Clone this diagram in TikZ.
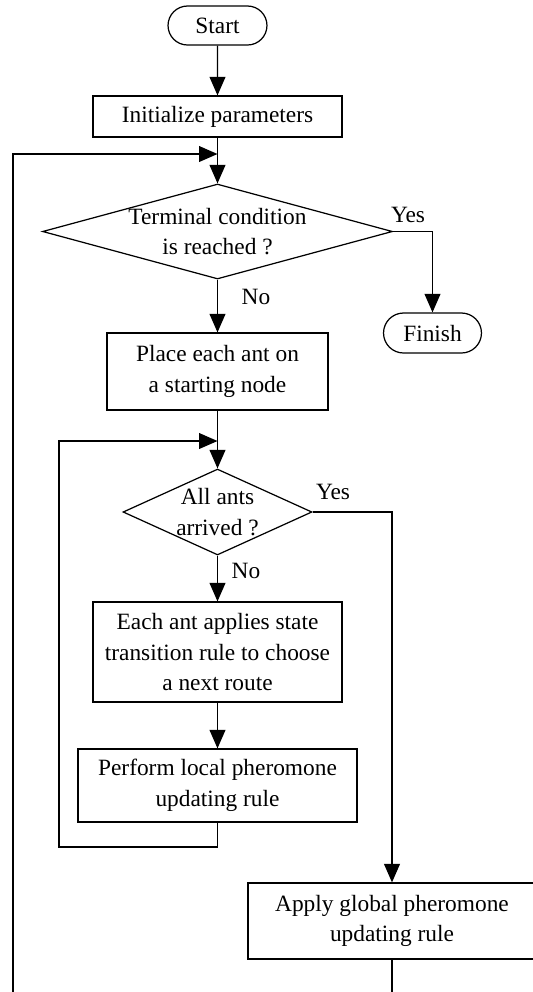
\documentclass[tikz,border=0pt]{standalone}
\usepackage{fontspec}
\setmainfont{Liberation Serif}
\usetikzlibrary{arrows.meta,shapes.geometric,shapes.misc,positioning}

\begin{document}
\begin{tikzpicture}[
    x=0.02cm, y=-0.02cm,
    font=\fontsize{13.3}{17.5}\selectfont,
    line width=0.7pt,
    term/.style={draw,rounded rectangle,minimum width=2.12cm,
                 minimum height=0.78cm,inner sep=2pt},
    box/.style={draw,rectangle,align=center,inner sep=2pt},
    dia/.style={draw,diamond,inner sep=0pt},
    lbl/.style={inner sep=1pt},
    arr/.style={-{Triangle[length=10.5pt,width=9pt]}},
  ]
    \useasboundingbox (0,0) rectangle (533,992);
    \clip (0,0) rectangle (533,992);
    % main column
    \node[term] (start) at (217.5,25.5) {Start};
    \node[box,minimum width=4.98cm,minimum height=0.82cm] (init)
      at (217.5,116.5) {Initialize parameters};
    \node[dia,minimum width=7cm,minimum height=1.9cm,
      label={[align=center]center:Terminal condition\\is reached ?}] (d1)
      at (217.5,231.5) {};
    \node[term,minimum width=2.1cm,minimum height=0.8cm] (finish)
      at (432.5,333) {Finish};
    \node[box,minimum width=4.42cm,minimum height=1.54cm] (place)
      at (217.5,371.5) {Place each ant on\\a starting node};
    \node[dia,minimum width=3.78cm,minimum height=1.72cm,
      label={[align=center]center:All ants\\arrived ?}] (d2)
      at (217.5,512) {};
    \node[box,minimum width=4.98cm,minimum height=2cm] (each)
      at (217.5,652) {Each ant applies state\\transition rule to choose\\a next route};
    \node[box,minimum width=5.58cm,minimum height=1.46cm] (local)
      at (217.5,785.5) {Perform local pheromone\\updating rule};
    \node[box,minimum width=5.76cm,minimum height=1.52cm] (global)
      at (392,921) {Apply global pheromone\\updating rule};
    \coordinate (join1) at (217.5,154);
    \coordinate (join2) at (217.5,441);
    % labels
    \node[lbl] (yes1) at (408,215) {Yes};
    \node[lbl] (no1) at (256,297) {No};
    \node[lbl] (yes2) at (333,492) {Yes};
    \node[lbl] (no2) at (246,571) {No};
    % connectors
    \draw[arr] (start) -- (init);
    \draw[arr] (init) -- (d1);
    \draw[arr] (d1.east) -| (finish.north);
    \draw[arr] (d1) -- (place);
    \draw[arr] (place) -- (d2);
    \draw[arr] (d2.east) -| (global.north);
    \draw[arr] (d2) -- (each);
    \draw[arr] (each) -- (local);
    \draw[arr] (local.south) -- (217.5,847) -| (59,441) -- (join2);
    \draw[arr] (global.south) -- (392,1012) -| (13,154) -- (join1);
  \end{tikzpicture}
\end{document}
